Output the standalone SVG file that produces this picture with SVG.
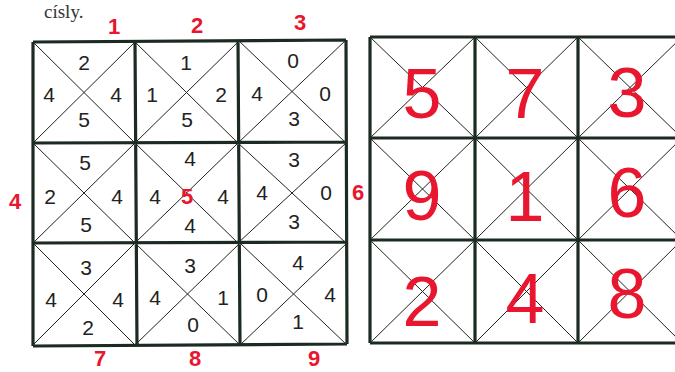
<svg xmlns="http://www.w3.org/2000/svg" width="675" height="372" viewBox="0 0 675 372">
<style>
.grid{fill:none;stroke:#1c2b22;stroke-width:3.2}
.diag{stroke:#222;stroke-width:1}
.n{font-family:"Liberation Sans",Arial,sans-serif;font-size:21px;fill:#222;text-anchor:middle}
.lab{font-family:"Liberation Sans",Arial,sans-serif;font-size:22px;font-weight:bold;fill:#e8162e;text-anchor:middle}
.big{font-family:"Liberation Sans",Arial,sans-serif;font-size:70px;fill:#e8162e;text-anchor:middle}
.cap{font-family:"Liberation Serif","Times New Roman",serif;font-size:19px;fill:#333}
</style>
<rect width="675" height="372" fill="#ffffff"/>
<text class="cap" x="44" y="18">císly.</text>

<g id="left-grid">
<g id="left-diagonals">
<path class="diag" d="M33,42 L135,143 M135,42 L33,143 M135,42 L238,143 M238,42 L135,143 M238,40 L346,143 M346,40 L238,143"/>
<path class="diag" d="M33,143 L135,243 M135,143 L33,243 M135,143 L238,243 M238,143 L135,243 M238,143 L346,243 M346,143 L238,243"/>
<path class="diag" d="M33,243 L135,345 M135,243 L33,345 M135,243 L240,345 M240,243 L135,345 M240,243 L347,345 M347,243 L240,345"/>
</g>
<path class="grid" d="M33,42 L346,40 M33,143 L346,142 M33,243 L347,242 M33,346 L347,344 M33,42 L33,346 M135,42 L137,345 M238,40 L240,345 M346,40 L347,344"/>
</g>

<g id="cell1"><text class="n" x="84" y="70">2</text><text class="n" x="49" y="102">4</text><text class="n" x="116" y="102">4</text><text class="n" x="84" y="127">5</text></g>
<g id="cell2"><text class="n" x="186" y="70">1</text><text class="n" x="152" y="102">1</text><text class="n" x="221" y="102">2</text><text class="n" x="187" y="127">5</text></g>
<g id="cell3"><text class="n" x="293" y="68">0</text><text class="n" x="257" y="101">4</text><text class="n" x="325" y="101">0</text><text class="n" x="294" y="126">3</text></g>
<g id="cell4"><text class="n" x="85" y="170">5</text><text class="n" x="50" y="204">2</text><text class="n" x="117" y="204">4</text><text class="n" x="86" y="232">5</text></g>
<g id="cell5"><text class="n" x="190" y="166">4</text><text class="n" x="155" y="204">4</text><text class="n" x="223" y="204">4</text><text class="n" x="190" y="233">4</text><text class="lab" x="187" y="204">5</text></g>
<g id="cell6"><text class="n" x="294" y="167">3</text><text class="n" x="262" y="200">4</text><text class="n" x="326" y="200">0</text><text class="n" x="294" y="229">3</text></g>
<g id="cell7"><text class="n" x="86" y="275">3</text><text class="n" x="51" y="307">4</text><text class="n" x="118" y="307">4</text><text class="n" x="88" y="335">2</text></g>
<g id="cell8"><text class="n" x="190" y="273">3</text><text class="n" x="155" y="305">4</text><text class="n" x="223" y="305">1</text><text class="n" x="193" y="332">0</text></g>
<g id="cell9"><text class="n" x="298" y="270">4</text><text class="n" x="262" y="302">0</text><text class="n" x="330" y="302">4</text><text class="n" x="298" y="329">1</text></g>

<g id="labels">
<text class="lab" x="114" y="34">1</text>
<text class="lab" x="197" y="33">2</text>
<text class="lab" x="300" y="30">3</text>
<text class="lab" x="15" y="209">4</text>
<text class="lab" x="358" y="200">6</text>
<text class="lab" x="100" y="366">7</text>
<text class="lab" x="195" y="366">8</text>
<text class="lab" x="314" y="366">9</text>
</g>

<g id="right-grid">
<path class="diag" d="M370,37 L475,138 M475,37 L370,138 M475,37 L578,138 M578,37 L475,138 M578,37 L682,138 M682,37 L578,138"/>
<path class="diag" d="M370,138 L475,240 M475,138 L370,240 M475,138 L578,240 M578,138 L475,240 M578,138 L682,240 M682,138 L578,240"/>
<path class="diag" d="M370,240 L475,343 M475,240 L370,343 M475,240 L578,343 M578,240 L475,343 M578,240 L682,343 M682,240 L578,343"/>
<path class="grid" d="M370,37 L676,37 M370,138 L676,138 M370,240 L676,240 M370,343 L676,343 M370,37 L370,343 M475,37 L475,343 M578,37 L578,343"/>
</g>
<g id="right-numbers">
<text class="big" x="422" y="118">5</text>
<text class="big" x="525" y="118">7</text>
<text class="big" x="627" y="117">3</text>
<text class="big" x="422" y="220">9</text>
<text class="big" x="525" y="221">1</text>
<text class="big" x="627" y="217">6</text>
<text class="big" x="422" y="326">2</text>
<text class="big" x="525" y="323">4</text>
<text class="big" x="627" y="318">8</text>
</g>
</svg>
